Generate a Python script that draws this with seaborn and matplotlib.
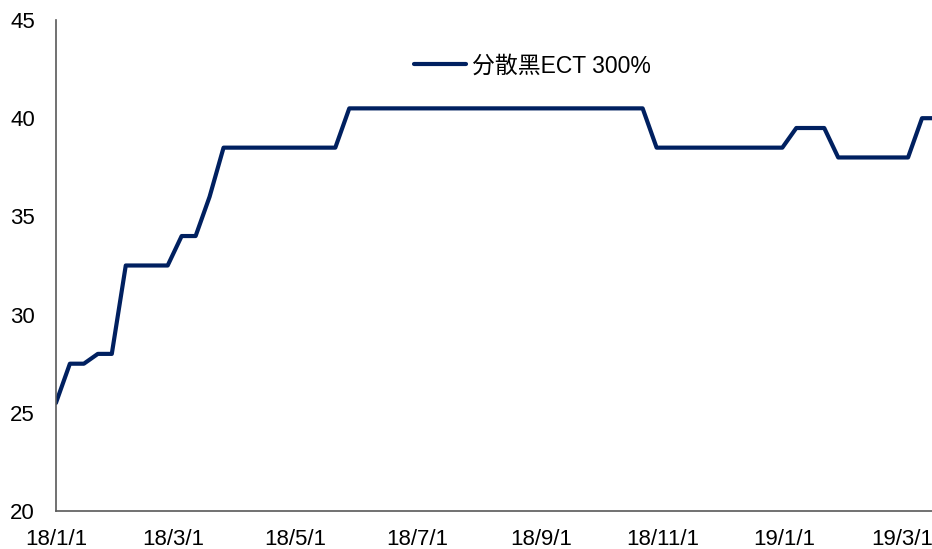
import numpy as np
import pandas as pd
import matplotlib
matplotlib.use("Agg")
import matplotlib.pyplot as plt
import seaborn as sns

# weekly observations starting 2018-01-01
start_date = "2018-01-01"
values = [25.5, 27.5, 27.5, 28, 28, 32.5, 32.5, 32.5, 32.5, 34, 34, 36,
          38.5, 38.5, 38.5, 38.5, 38.5, 38.5, 38.5, 38.5, 38.5,
          40.5, 40.5, 40.5, 40.5, 40.5, 40.5, 40.5, 40.5, 40.5, 40.5, 40.5,
          40.5, 40.5, 40.5, 40.5, 40.5, 40.5, 40.5, 40.5, 40.5, 40.5, 40.5,
          38.5, 38.5, 38.5, 38.5, 38.5, 38.5, 38.5, 38.5, 38.5, 38.5,
          39.5, 39.5, 39.5,
          38, 38, 38, 38, 38, 38,
          40, 40]
series_name = "分散黑ECT 300%"
tick_dates = ["2018-01-01", "2018-03-01", "2018-05-01", "2018-07-01", "2018-09-01",
              "2018-11-01", "2019-01-01", "2019-03-01"]
tick_labels = ["18/1/1", "18/3/1", "18/5/1", "18/7/1", "18/9/1", "18/11/1", "19/1/1", "19/3/1"]
y_ticks = [20, 25, 30, 35, 40, 45]

dates = pd.date_range(start_date, periods=len(values), freq="7D")
df = pd.DataFrame({"date": dates, "value": values, "series": series_name})

sns.set_theme(style="white")
plt.rcParams['font.family'] = ['Liberation Sans', 'Noto Sans CJK SC', 'DejaVu Sans']

fig = plt.figure(figsize=(9.32, 5.49), dpi=100)
ax = fig.add_axes([0.060, 0.0692, 0.940, 0.8944])

sns.lineplot(data=df, x="date", y="value", hue="series", palette=["#002060"],
             linewidth=3, ax=ax, legend=True)

ax.set_ylim(20, 45)
ax.set_yticks(y_ticks)
ax.set_yticklabels([str(v) for v in y_ticks], fontsize=16)
ax.set_xlim(pd.Timestamp("2018-01-01"), pd.Timestamp("2019-03-16"))
ax.set_xticks(pd.to_datetime(tick_dates))
ax.set_xticklabels(tick_labels, fontsize=16)
ax.set_xlabel("")
ax.set_ylabel("")

for s in ["top", "right"]:
    ax.spines[s].set_visible(False)
for s in ["left", "bottom"]:
    ax.spines[s].set_color("#595959")
    ax.spines[s].set_linewidth(1.2)
ax.tick_params(axis="both", direction="in", length=5, width=1, color="#404040",
               labelcolor="black")
ax.tick_params(axis="x", pad=13)
ax.tick_params(axis="y", pad=15)
ax.grid(False)

leg = ax.legend(loc="center", bbox_to_anchor=(0.571, 0.880), bbox_transform=fig.transFigure,
                frameon=False, fontsize=16.5, handlelength=2.3, handletextpad=0.25)
for t in leg.get_texts():
    t.set_color("black")

fig.savefig("out.png", dpi=100)
